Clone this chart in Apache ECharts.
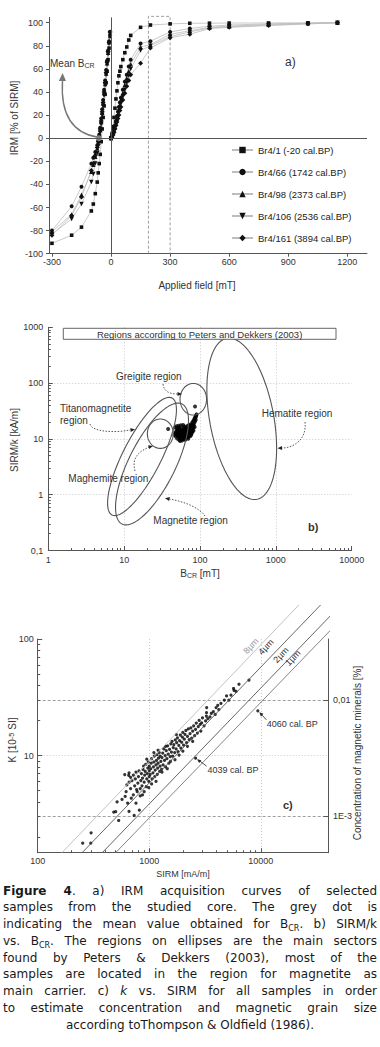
<!DOCTYPE html>
<html><head><meta charset="utf-8">
<script src="https://cdn.jsdelivr.net/npm/echarts@6/dist/echarts.min.js"></script>
<style>
html,body{margin:0;padding:0;background:#fff;}
#chart{position:absolute;left:0;top:0;width:380px;height:1047px;}
#cap{position:absolute;left:3px;top:882.5px;width:374px;font-family:"DejaVu Sans",Verdana,sans-serif;font-size:12px;line-height:16.8px;color:#1a1a1a;}
#cap div{text-align:justify;text-align-last:justify;}
#cap div.last{text-align:center;text-align-last:center;}
#cap sub{font-size:8px;vertical-align:-3px;line-height:0;}
</style></head><body>
<div id="chart"></div>
<div id="cap">
<div><b>Figure 4</b>. a) IRM acquisition curves of selected</div>
<div>samples from the studied core. The grey dot is</div>
<div>indicating the mean value obtained for B<sub>CR</sub>. b) SIRM/k</div>
<div>vs. B<sub>CR</sub>. The regions on ellipses are the main sectors</div>
<div>found by Peters &amp; Dekkers (2003), most of the</div>
<div>samples are located in the region for magnetite as</div>
<div>main carrier. c) <i>k</i> vs. SIRM for all samples in order</div>
<div>to estimate concentration and magnetic grain size</div>
<div class="last">according toThompson &amp; Oldfield (1986).</div>
</div>
<script>
// ---------- Panel a: IRM acquisition ----------
const samples = ['Br4/1 (-20 cal.BP)','Br4/66 (1742 cal.BP)','Br4/98 (2373 cal.BP)','Br4/106 (2536 cal.BP)','Br4/161 (3894 cal.BP)'];
const fwField = [0,5,10,15,20,25,30,35,40,45,50,60,70,80,90,100,150,200,300,400,500,600,800,1000,1150];
const fwBr4_1   = [0,4,10,18,26,34,41,48,54,58,62,68,74,79,85,89,96,98,99,99.5,99.6,99.7,99.8,99.9,100];
const fwBr4_66  = [0,2,5,8,11,15,19,23,27,31,35,42,49,55,62,68,82,84,92,95,97,98,99,99.5,100];
const fwBr4_98  = [0,1.5,4,7,10,13,17,21,25,29,33,39,46,52,58,64,79,81,90,93,96,97,98.5,99.5,100];
const fwBr4_106 = [0,1,3,6,9,12,15,19,23,26,30,36,42,48,54,60,76,80,88,92,95.5,96.5,98,99,100];
const fwBr4_161 = [0,1,3,5,8,11,14,17,20,24,27,33,39,45,50,55,65,78,87,90,95,96,97.5,99,100];
const bwField = [-5,-10,-15,-20,-25,-30,-35,-40,-45,-50,-55,-60,-65,-70,-80,-90,-100,-150,-200,-300];
const bwBr4_1   = [88,78,68,58,48,38,28,18,8,-3,-14,-22,-30,-38,-48,-57,-63,-77,-84,-91];
const bwBr4_66  = [92,84,76,67,59,50,42,33,25,17,9,3,-2,-6,-12,-17,-22,-42,-59,-80];
const bwBr4_98  = [91,83,74,65,56,47,39,30,22,14,7,1,-4,-9,-16,-23,-29,-49,-66,-81];
const bwBr4_106 = [91,82,73,64,55,46,37,28,20,12,5,-1,-7,-13,-22,-31,-38,-57,-70,-83];
const bwBr4_161 = [92,83,75,66,57,48,40,31,23,15,8,2,-3,-8,-15,-22,-28,-51,-67,-84];
const meanBcr = [[-62,0]];
const windowField = [190,300];
const windowTop = 105.5;
const xTicksA = [-300,0,300,600,900,1200];
const yTicksA = [-100,-80,-60,-40,-20,0,20,40,60,80,100];

// ---------- Panel b: SIRM/k vs Bcr ----------
// Peters & Dekkers (2003) regions: centre [Bcr mT, SIRM/k kA/m], semi-axis vectors in decades
const hematiteRegion = {centre:[355,22.9], a:[0.198,-1.443], b:[0.415,0.105]};
const greigiteRegion = {centre:[81.6,51.4], a:[0.175,0], b:[0,0.283]};
const maghemiteRegion = {centre:[30.0,12.4], a:[0.171,0], b:[0,0.263]};
const titanomagnetiteRegion = {centre:[17.2,4.84], a:[0.3955,1.048], b:[0.223,-0.156]};
const magnetiteRegion = {centre:[23.3,3.55], a:[0.3955,1.075], b:[0.274,-0.186]};
const bcrSirmk = [
[47,12.5],[48,11],[49,13.8],[50,10.2],[50,12],[51,14.5],[52,11.3],[52,13],[53,9.6],[53,15.5],[54,12.2],[54,10.8],
[55,13.6],[55,11.7],[56,9.8],[56,14.2],[57,12.8],[57,10.5],[58,11.9],[58,15.1],[59,13.3],[59,10.1],[60,12.4],[60,14.8],
[61,11.2],[61,9.9],[62,13.7],[62,12.1],[63,10.7],[63,15.9],[64,12.9],[64,11.5],[65,14.1],[65,10.3],[66,12.6],[66,13.9],
[67,11.1],[67,15.4],[68,12.2],[68,10.6],[69,13.5],[69,14.7],[70,11.8],[70,16.3],[71,12.9],[71,10.9],[72,14.2],[72,13.1],
[73,11.5],[73,17.2],[74,12.6],[74,15.6],[75,13.8],[75,11.3],[76,16.8],[76,14.5],[77,12.2],[77,18.1],[78,15.2],[78,13.4],
[79,17.5],[79,19.6],[80,14.3],[80,16.1],[81,20.5],[81,18.4],[82,15.7],[83,21.8],[83,17.3],[84,19.2],[85,23.5],[85,16.4],
[86,20.8],[87,24.6],[88,22.1],[89,26.3],[90,27.5],[88,25.0],[51,11.6],[53,12.9],[55,10.4],[57,13.9],[59,11.6],[61,14.3],
[63,12.3],[65,11.7],[67,13.2],[69,12.4],[71,14.9],[73,13.6],[75,15.2],[60,10.8],[58,9.4],[64,9.6],[70,10.1],[76,11.9],
[79,13.1],[82,14.0],[48,13.2],[46,11.8],[50,15.0],[54,16.2],[62,16.7],[66,16.0],[72,17.9],[68,17.0],[47,16],[49,16.8],
[52,17.2],[56,17.5],[60,17.8],[38,15],[86,38],[54.6,9.2]];

// ---------- Panel c: k vs SIRM ----------
const grain8um = [[165,1.466],[21930,196]];
const grain4um = [[250,1.466],[34360,196]];
const grain2um = [[379,1.466],[52120,196]];
const grain1um = [[500,1.466],[69660,196]];
const sample4039 = [2600,9.5];
const sample4060 = [9400,24.2];
const sirmK = [
[253,1.77],[299,1.77],[301,2.17],[480,3.27],[532,2.77],[515,4.0],[500,3.3],
[608,4.46],[630,5.6],[654,6.76],[603,6.86],[659,7.1],[659,3.31],[620,4.9],[680,5.2],[690,4.3],[640,3.9],[570,4.2],[700,6.1],[680,6.5],[660,5.9],
[732,3.06],[720,4.6],[740,5.5],[750,6.3],[760,7.2],[780,4.9],[790,5.8],[800,6.6],[810,7.4],[830,5.2],[840,6.1],[850,7.0],[770,5.1],[720,6.8],[830,4.5],[760,3.9],[815,3.4],
[860,5.5],[870,6.4],[880,7.6],[890,8.1],[900,5.9],[910,6.8],[920,7.3],[930,8.4],[940,5.4],[950,6.3],[960,7.0],[970,7.8],[980,8.8],[990,6.0],[1000,6.6],[1000,7.4],[1000,8.1],[870,4.6],[900,4.9],[950,9.3],[990,5.3],
[1020,6.9],[1030,7.7],[1040,8.6],[1050,9.4],[1060,6.3],[1080,7.1],[1090,8.0],[1100,8.8],[1110,9.9],[1120,6.6],[1130,7.5],[1150,8.3],[1160,9.1],[1170,10.2],[1180,6.9],[1190,7.8],[1200,8.6],[1210,9.5],[1230,10.6],[1240,7.3],[1250,8.1],[1050,5.7],[1150,6.0],[1250,9.9],[1200,11.1],[1100,10.6],
[1270,8.9],[1290,7.6],[1300,9.6],[1320,10.5],[1330,8.3],[1350,11.4],[1370,9.1],[1390,10.0],[1400,8.0],[1420,11.0],[1440,9.4],[1460,12.1],[1480,10.3],[1500,8.6],[1520,11.3],[1540,9.8],[1560,12.6],[1580,10.7],[1600,13.2],[1300,7.2],[1450,7.7],[1550,8.9],[1400,12.0],
[1620,9.9],[1640,11.7],[1660,12.4],[1690,10.6],[1710,13.6],[1740,11.4],[1760,12.9],[1790,14.2],[1810,10.8],[1840,12.2],[1870,13.4],[1900,15.0],[1920,11.6],[1950,13.0],[1980,14.4],[2000,15.8],[2030,12.3],[2060,13.8],[2090,15.2],[1700,9.2],[1850,10.1],[2000,10.9],[1750,15.1],
[2130,16.4],[2160,12.9],[2200,14.6],[2240,16.9],[2280,13.7],[2320,15.4],[2360,17.3],[2400,14.1],[2450,16.2],[2500,18.0],[2550,14.8],[2600,16.8],[2640,19.0],[2700,15.6],[2750,17.7],[2800,20.0],[2860,18.5],[2900,16.2],[2950,19.1],[3000,21.0],[2200,12.0],[2450,13.2],
[3100,18.0],[3200,19.8],[3250,21.8],[3260,23.3],[3270,25.8],[3350,20.7],[3500,21.5],[3600,23.0],[3750,23.8],[3900,22.5],[3970,25.8],[4110,27.0],[4390,28.0],[4200,24.8],
[4710,29.9],[4930,32.5],[5170,29.9],[5400,33.0],[5700,37.6],[5750,36.3],[6370,40.9],[7830,44.4],[6000,35.5]];

// ---------- build ----------
const FONT = 'Liberation Sans, Arial, sans-serif';
const AX = '#555', TXT = '#333';
const chart = echarts.init(document.getElementById('chart'), null, {renderer:'svg', width:380, height:1047});

const fw = [fwBr4_1, fwBr4_66, fwBr4_98, fwBr4_106, fwBr4_161];
const bw = [bwBr4_1, bwBr4_66, bwBr4_98, bwBr4_106, bwBr4_161];
const symbols = ['rect','circle','triangle','triangle','diamond'];
const symRot = [0,0,0,180,0];
const symSize = [3.6,4,4.5,4.5,5];
const series = [];
samples.forEach((name,i)=>{
  [[fwField, fw[i]],[bwField, bw[i]]].forEach(([f,v])=>{
    series.push({type:'line', name, xAxisIndex:0, yAxisIndex:0, data:f.map((x,j)=>[x,v[j]]),
      symbol:symbols[i], symbolRotate:symRot[i], symbolSize:symSize[i], showAllSymbol:true,
      lineStyle:{color:'#bdbdbd', width:0.8}, itemStyle:{color:'#111'}, z:3, clip:false, silent:true});
  });
});
series.push({type:'line', xAxisIndex:0, yAxisIndex:0, data:[], silent:true,
  markLine:{silent:true, symbol:'none', label:{show:false}, animation:false,
    lineStyle:{color:AX, width:1, type:'solid'}, data:[{xAxis:0},{yAxis:0}]}});
series.push({type:'line', xAxisIndex:0, yAxisIndex:0, silent:true, clip:false, symbol:'none',
  data:[[windowField[0],-100],[windowField[0],windowTop],[windowField[1],windowTop],[windowField[1],-100]],
  lineStyle:{color:'#888', width:0.8, type:[3,2]}, z:1});
series.push({type:'scatter', xAxisIndex:0, yAxisIndex:0, data:meanBcr, symbolSize:6, itemStyle:{color:'#999'}, z:4, silent:true});

function ellipse(r){
  const pts=[]; const lx=Math.log10(r.centre[0]), ly=Math.log10(r.centre[1]);
  for(let k=0;k<=120;k++){const t=k/120*2*Math.PI;
    pts.push([Math.pow(10, lx+r.a[0]*Math.cos(t)+r.b[0]*Math.sin(t)), Math.pow(10, ly+r.a[1]*Math.cos(t)+r.b[1]*Math.sin(t))]);}
  return pts;
}
[hematiteRegion, greigiteRegion, maghemiteRegion, titanomagnetiteRegion, magnetiteRegion].forEach(r=>{
  series.push({type:'line', xAxisIndex:1, yAxisIndex:1, data:ellipse(r), symbol:'none', clip:false, silent:true,
    lineStyle:{color:'#555', width:1.1}});
});
series.push({type:'scatter', xAxisIndex:1, yAxisIndex:1, data:bcrSirmk, symbolSize:4, itemStyle:{color:'#000'}, silent:true});

const grainStyles = [['#bbb',0.9],['#555',0.9],['#555',0.9],['#777',0.9]];
[grain8um, grain4um, grain2um, grain1um].forEach((g,i)=>{
  series.push({type:'line', xAxisIndex:2, yAxisIndex:2, data:g, symbol:'none', clip:false, silent:true,
    lineStyle:{color:grainStyles[i][0], width:grainStyles[i][1]}});
});
series.push({type:'scatter', xAxisIndex:2, yAxisIndex:2, data:sirmK.concat([sample4039, sample4060]), symbolSize:3.2, itemStyle:{color:'#000'}, silent:true});

const lbl = {fontSize:9, color:TXT, fontFamily:FONT};
const plain = v=>String(+(+v).toPrecision(6));
const minorLog = (lo,hi)=>{const o=[];for(let e=lo;e<hi;e++)for(let m=2;m<10;m++)o.push(m*Math.pow(10,e));return o;};
const gridSplit = {show:true, showMinLine:false, showMaxLine:false, lineStyle:{color:'#bbb', type:[1,2], width:0.8}};
const minorAxis = (gi, pos, min, max, vals)=>({type:'log', gridIndex:gi, position:pos, min, max, logBase:10,
  axisLine:{show:false}, axisLabel:{show:false}, splitLine:{show:false},
  axisTick:{show:true, inside:true, customValues:vals, length:2.5, lineStyle:{color:AX}}});
const option = {
  animation:false,
  textStyle:{fontFamily:FONT},
  grid:[
    {left:49, right:13, top:17.4, bottom:1047-253.7},
    {left:48.3, right:28.3, top:327.3, bottom:1047-550.5},
    {left:37.7, right:52, top:639, bottom:1047-852.7}
  ],
  xAxis:[
    {type:'value', gridIndex:0, min:-315, max:1300, axisLine:{onZero:false, lineStyle:{color:AX}},
      axisTick:{customValues:xTicksA, length:3, lineStyle:{color:AX}}, axisLabel:Object.assign({customValues:xTicksA, margin:4, formatter:plain}, lbl), splitLine:{show:false}},
    {type:'log', gridIndex:1, position:'bottom', min:1, max:10000, logBase:10, axisLine:{onZero:false, lineStyle:{color:AX}},
      axisTick:{inside:true, length:4.5, lineStyle:{color:AX}}, axisLabel:Object.assign({margin:5, formatter:plain}, lbl), splitLine:gridSplit},
    {type:'log', gridIndex:2, position:'bottom', min:100, max:40000, logBase:10, axisLine:{onZero:false, lineStyle:{color:AX}},
      axisTick:{inside:true, length:4.5, lineStyle:{color:AX}}, axisLabel:Object.assign({margin:4, showMaxLabel:false, formatter:plain}, lbl), splitLine:gridSplit},
    minorAxis(1,'bottom',1,10000,minorLog(0,4)),
    minorAxis(2,'bottom',100,40000,minorLog(2,4).filter(v=>v<=40000))
  ],
  yAxis:[
    {type:'value', gridIndex:0, min:-100, max:104.6, axisLine:{onZero:false, lineStyle:{color:AX}},
      axisTick:{customValues:yTicksA, length:3, lineStyle:{color:AX}}, axisLabel:Object.assign({customValues:yTicksA, margin:6}, lbl), splitLine:{show:false}},
    {type:'log', gridIndex:1, position:'left', min:0.1, max:1000, logBase:10, axisLine:{onZero:false, lineStyle:{color:AX}},
      axisTick:{inside:true, length:4.5, lineStyle:{color:AX}},
      axisLabel:Object.assign({margin:5, formatter:v=>plain(v).replace('.',',')}, lbl), splitLine:gridSplit},
    {type:'log', gridIndex:2, position:'left', min:1.466, max:100, logBase:10, axisLine:{onZero:false, lineStyle:{color:AX}},
      axisTick:{inside:true, length:4.5, lineStyle:{color:AX}},
      axisLabel:Object.assign({margin:4, showMinLabel:false, formatter:plain}, lbl), splitLine:gridSplit},
    {type:'log', gridIndex:2, position:'right', min:1.466/3000, max:100/3000, logBase:10, axisLine:{onZero:false, lineStyle:{color:AX}},
      axisTick:{inside:true, length:4.5, lineStyle:{color:AX}},
      axisLabel:Object.assign({margin:5, showMinLabel:false, showMaxLabel:false,
        formatter:v=>{const x=+(+v).toPrecision(6); return x===0.01?'0,01':(x===0.001?'1E-3':String(x));}}, lbl),
      splitLine:{show:true, showMinLine:false, showMaxLine:false, lineStyle:{color:'#888', type:[3,2], width:0.8}}},
    minorAxis(1,'left',0.1,1000,minorLog(-1,3)),
    minorAxis(2,'left',1.466,100,minorLog(0,2).filter(v=>v>=1.466))
  ],
  legend:{data:samples, orient:'vertical', left:231, top:145, itemGap:12, itemWidth:21, itemHeight:8, padding:0,
    selectedMode:false, textStyle:{fontSize:9.5, color:'#222', fontFamily:FONT}},
  series
};
chart.setOption(option);

// ---------- annotations ----------
const T = (text,x,y,o={})=>({type:'text', x, y, rotation:o.rot||0, silent:true, z:50,
  style:Object.assign({text, fontSize:o.fs||10, fontFamily:FONT, fill:o.fill||TXT, align:o.align||'left', verticalAlign:'middle', fontWeight:o.fw||'normal'}, o.style||{})});
function head(tip, from, size, color){
  const dx=tip[0]-from[0], dy=tip[1]-from[1], L=Math.hypot(dx,dy), ux=dx/L, uy=dy/L;
  const bx=tip[0]-ux*size, by=tip[1]-uy*size, w=size*0.45;
  return {type:'polygon', silent:true, z:50, shape:{points:[tip,[bx-uy*w,by+ux*w],[bx+uy*w,by-ux*w]]}, style:{fill:color}};
}
function curve(p, color, width, dash){
  return {type:'bezierCurve', silent:true, z:50, shape:{x1:p[0][0],y1:p[0][1],cpx1:p[1][0],cpy1:p[1][1],cpx2:p[2][0],cpy2:p[2][1],x2:p[3][0],y2:p[3][1]},
    style:{stroke:color, lineWidth:width, fill:null, lineDash:dash||null}};
}
const els = [];
const subRich = (fs)=>({rich:{a:{fontSize:fs, fontFamily:FONT, fill:TXT, lineHeight:13, verticalAlign:'bottom'}, s:{fontSize:fs*0.7, fontFamily:FONT, fill:TXT, lineHeight:6, verticalAlign:'bottom'}}});
const supRich = (fs)=>({rich:{a:{fontSize:fs, fontFamily:FONT, fill:TXT, lineHeight:13, verticalAlign:'top'}, s:{fontSize:fs*0.75, fontFamily:FONT, fill:TXT, lineHeight:6, verticalAlign:'top'}}});
// panel a
const dot = chart.convertToPixel({xAxisIndex:0, yAxisIndex:0}, meanBcr[0]);
els.push(curve([[dot[0]-1,dot[1]-1],[66,132],[61,105],[62.5,81]], '#777', 1.4));
els.push(head([62.6,73],[62.4,82],8,'#777'));
els.push({type:'text', x:50, y:62, silent:true, z:50, style:Object.assign({text:'{a|Mean B}{s|CR}', verticalAlign:'middle'}, subRich(10))});
els.push(T('a)',285,62,{fs:12}));
els.push(T('IRM [% of SIRM]',14,118,{rot:Math.PI/2, align:'center'}));
els.push(T('Applied field [mT]',197,285,{align:'center'}));
// panel b
els.push({type:'rect', silent:true, z:40, shape:{x:63.3,y:328.3,width:272.7,height:11}, style:{fill:'#fff', stroke:'#555', lineWidth:0.9}});
els.push(T('Regions according to Peters and Dekkers (2003)',199.6,334,{align:'center', fs:9.5}));
els.push(T('Greigite region',116,376.7));
els.push({type:'text', x:60, y:414, silent:true, z:50, style:{text:'Titanomagnetite\nregion', fontSize:10, fontFamily:FONT, fill:TXT, align:'left', verticalAlign:'middle', lineHeight:12}});
els.push(T('Hematite region',261.7,413.3));
els.push(T('Maghemite region',68.3,478.3));
els.push(T('Magnetite region',153.3,520));
els.push(T('b)',308,527,{fw:'bold', fs:11}));
const dcol='#444';
[
  [[163,384],[164,393],[172,394],[178,394],[182,394]],
  [[90,424],[92,432],[115,433],[130,430],[135,429.5]],
  [[305,422],[307,440],[293,448],[282,448],[277.5,448.3]],
  [[135,471],[131,456],[141,451],[149,447],[153,446]],
  [[205,516],[199,507],[182,501],[169,499],[165,498.3]]
].forEach(p=>{els.push(curve([p[0],p[1],p[2],p[3]], dcol, 0.9, [1.5,1.5])); els.push(head(p[4],p[3],4.5,'#222'));});
els.push(T('SIRM/k [kA/m]',14,440,{rot:Math.PI/2, align:'center'}));
els.push({type:'text', x:200, y:572, silent:true, z:50, style:Object.assign({text:'{a|B}{s|CR}{a| [mT]}', align:'center', verticalAlign:'middle'}, subRich(10))});
// panel c
const rot = Math.atan2(116,110.7);
els.push(T('8µm',251,646,{rot, align:'center', fs:9, fill:'#999'}));
els.push(T('4µm',266,647,{rot, align:'center', fs:9}));
els.push(T('2µm',281,655,{rot, align:'center', fs:9}));
els.push(T('1µm',293,658,{rot, align:'center', fs:9}));
const p4060 = chart.convertToPixel({xAxisIndex:2, yAxisIndex:2}, sample4060);
const p4039 = chart.convertToPixel({xAxisIndex:2, yAxisIndex:2}, sample4039);
els.push({type:'line', silent:true, z:50, shape:{x1:p4060[0]+8.5, y1:p4060[1]+9, x2:p4060[0]+3, y2:p4060[1]+3}, style:{stroke:'#222', lineWidth:0.8}});
els.push(head([p4060[0]+1.5,p4060[1]+1.5],[p4060[0]+8,p4060[1]+8],4,'#222'));
els.push(T('4060 cal. BP',p4060[0]+9,p4060[1]+13,{fs:9}));
els.push({type:'line', silent:true, z:50, shape:{x1:p4039[0]+11, y1:p4039[1]+8, x2:p4039[0]+3, y2:p4039[1]+2}, style:{stroke:'#222', lineWidth:0.8}});
els.push(head([p4039[0]+1.5,p4039[1]+1],[p4039[0]+8,p4039[1]+6],4,'#222'));
els.push(T('4039 cal. BP',p4039[0]+12,p4039[1]+12,{fs:9}));
els.push(T('c)',283,805,{fw:'bold', fs:11}));
els.push({type:'text', x:14, y:740, rotation:Math.PI/2, silent:true, z:50, style:Object.assign({text:'{a|K [10}{s|-5}{a| SI]}', align:'center', verticalAlign:'middle'}, supRich(10))});
els.push(T('SIRM [mA/m]',183,874,{align:'center', fs:9}));
els.push(T('Concentration of magnetic minerals [%]',357,753,{rot:Math.PI/2, align:'center'}));
chart.setOption({graphic:{elements:els}});
</script>
</body></html>
